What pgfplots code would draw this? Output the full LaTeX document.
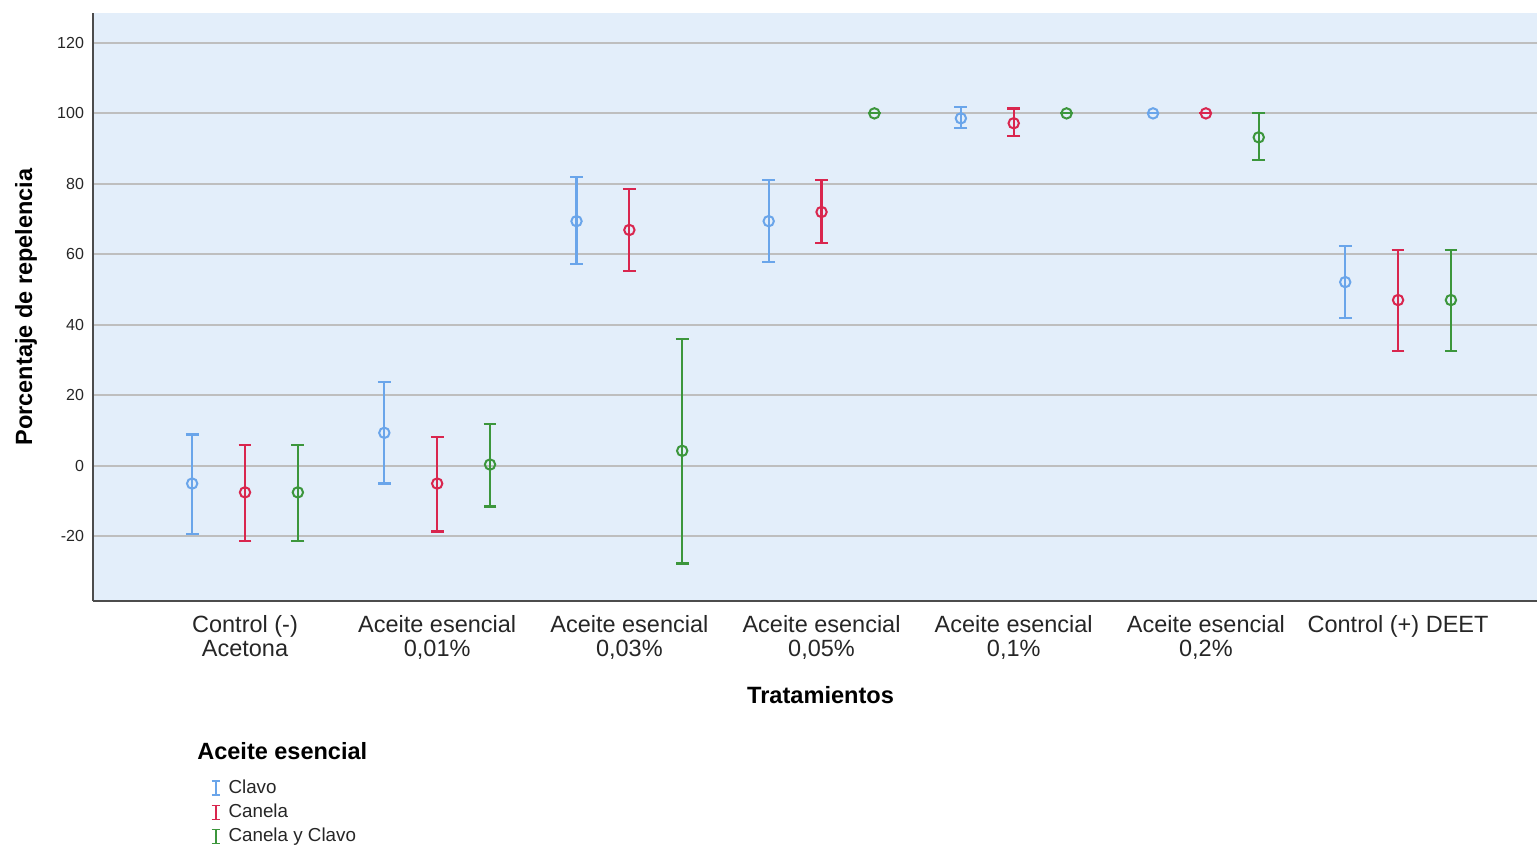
\documentclass[border=0pt]{standalone}
\usepackage{pgfplots}
\pgfplotsset{compat=1.18}
\usepackage{fontspec}
\setmainfont{Liberation Sans}
\definecolor{bgc}{HTML}{E3EEFA}
\definecolor{cclavo}{HTML}{6AA5EA}
\definecolor{ccanela}{HTML}{D9264E}
\definecolor{cmix}{HTML}{3C963C}
\definecolor{gridc}{HTML}{BEBEBE}
\definecolor{txtc}{HTML}{262626}
\begin{document}
\begin{tikzpicture}
\begin{axis}[
  at={(0,0)}, anchor=south west,
  width=722pt, height=294pt, scale only axis, clip=false,
  xmin=-0.791, xmax=6.723, ymin=-38.45, ymax=128.5,
  axis background/.style={fill=bgc},
  axis x line*=bottom, axis y line*=left,
  axis line style={draw=black!70, line width=1pt, -},
  xtick={0,1,2,3,4,5,6},
  xticklabels={{Control (-)\\Acetona},{Aceite esencial\\0,01\%},{Aceite esencial\\0,03\%},{Aceite esencial\\0,05\%},{Aceite esencial\\0,1\%},{Aceite esencial\\0,2\%},{Control (+) DEET\\\strut}},
  x tick label style={align=center, font=\fontsize{11.75}{12}\selectfont, text=txtc, yshift=-3.5pt},
  ytick={-20,0,20,40,60,80,100,120},
  yticklabels={-20,0,20,40,60,80,100,120},
  y tick label style={font=\fontsize{8}{9.6}\selectfont, text=txtc, xshift=-1pt},
  major tick length=0pt,
  ymajorgrids, grid style={gridc, line width=1pt},
  ylabel={\bfseries Porcentaje de repelencia},
  ylabel style={font=\fontsize{11.75}{14}\selectfont, at={(axis description cs:0,0.5)}, anchor=south, yshift=24.5pt},
  error bars/y dir=both, error bars/y explicit,
  error bars/error bar style={line width=1.1pt},
  error bars/error mark options={rotate=90, mark size=3.2pt, line width=1.1pt},
  legend style={draw=none, fill=none, at={(axis description cs:0.0814,-0.2968)}, anchor=north west,
    font=\fontsize{9.4}{11}\selectfont, text=txtc, row sep=-0.2pt, inner sep=0pt,
    /tikz/every odd column/.append style={column sep=2pt}},
  legend cell align=left,
  legend image code/.code={\draw[line width=0.8pt] (0pt,-3.5pt) -- (0pt,3.5pt) (-2pt,-3.5pt) -- (2pt,-3.5pt) (-2pt,3.5pt) -- (2pt,3.5pt);},
]
\addplot[cclavo, only marks, mark=o, mark size=2.6pt, mark options={line width=1pt}] table[x=x, y=y, y error plus=ep, y error minus=em] {
x y ep em
-0.275 -5.1 13.9 14.4
0.725 9.3 14.5 14.4
1.725 69.4 12.5 12.2
2.725 69.4 11.6 11.6
3.725 98.6 3.1 2.8
4.725 100 0 0
5.725 52.1 10.2 10.2
};
\addlegendentry{Clavo}
\addplot[ccanela, only marks, mark=o, mark size=2.6pt, mark options={line width=1pt}] table[x=x, y=y, y error plus=ep, y error minus=em] {
x y ep em
0 -7.6 13.5 13.9
1 -5.1 13.3 13.6
2 66.9 11.6 11.7
3 72 9 8.8
4 97.2 4.2 3.7
5 100 0 0
6 47 14.2 14.4
};
\addlegendentry{Canela}
\addplot[cmix, only marks, mark=o, mark size=2.6pt, mark options={line width=1pt}] table[x=x, y=y, y error plus=ep, y error minus=em] {
x y ep em
0.275 -7.6 13.5 13.9
1.275 0.3 11.6 11.9
2.275 4.2 31.8 32.0
3.275 100 0 0
4.275 100 0 0
5.275 93.2 6.8 6.5
6.275 47 14.2 14.4
};
\addlegendentry{Canela y Clavo}
\node[font=\fontsize{11.8}{14}\selectfont\bfseries, text=black] at (axis cs:2.995,-65.2) {Tratamientos};
\node[font=\fontsize{11.75}{14}\selectfont\bfseries, text=black, anchor=west, inner sep=0pt] at (axis description cs:0.0720,-0.2545) {Aceite esencial};
\end{axis}
\pgfresetboundingbox
\path (-46.5pt,-123.5pt) rectangle (722pt,300.5pt);
\end{tikzpicture}
\end{document}
